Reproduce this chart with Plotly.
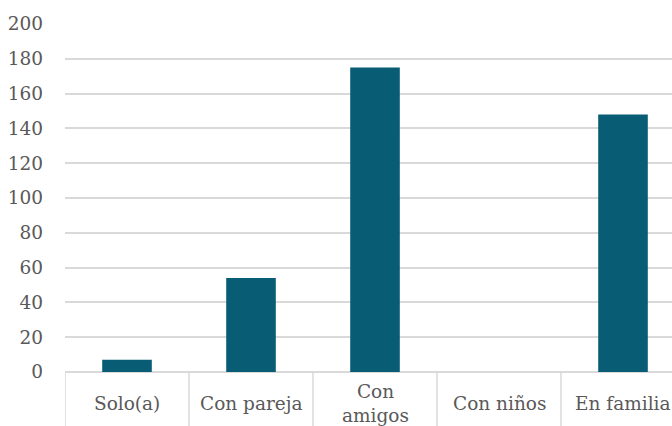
import plotly.graph_objects as go

categories = ["Solo(a)", "Con pareja", "Con amigos", "Con niños", "En familia"]
tick_labels = ["Solo(a)", "Con pareja", "Con<br>amigos", "Con niños", "En familia"]
values = [7, 54, 175, 0, 148]
y_ticks = list(range(0, 201, 20))

BAR = "#085c74"
GRID = "#d9d9d9"
TXT = "#595959"
FONT = "DejaVu Serif"

W, H = 672, 426
ML, MT, MB = 65, 24, 54
plot_w = W - ML
cat_px = 124.0
n = len(categories)
x_max = -0.5 + plot_w / cat_px

fig = go.Figure()
fig.add_trace(go.Bar(
    x=list(range(n)), y=values,
    marker=dict(color=BAR, line=dict(width=0)),
    width=0.4,
))

shapes = []
for i in range(n + 1):
    xb = i - 0.5
    if xb <= x_max:
        shapes.append(dict(type="line", xref="x", yref="paper", x0=xb, x1=xb,
                           y0=0, y1=-MB / (H - MT - MB), line=dict(color=GRID, width=1.5),
                           layer="below"))

annotations = []
for i, lab in enumerate(tick_labels):
    annotations.append(dict(xref="x", yref="paper", x=i, y=-(MB / 2 + 4) / (H - MT - MB),
                            text=lab, showarrow=False, xanchor="center", yanchor="middle",
                            font=dict(family=FONT, size=18.5, color=TXT)))

fig.update_layout(
    width=W, height=H,
    margin=dict(l=ML, r=0, t=MT, b=MB, pad=0),
    paper_bgcolor="white", plot_bgcolor="white",
    showlegend=False,
    shapes=shapes, annotations=annotations,
    xaxis=dict(range=[-0.5, x_max], showticklabels=False, showgrid=False,
               zeroline=False, showline=False, ticks=""),
    yaxis=dict(range=[0, 200], tickvals=y_ticks, showgrid=True, gridcolor=GRID,
               gridwidth=1.5, zeroline=True, zerolinecolor=GRID, zerolinewidth=1.5,
               showline=False, ticks="", ticklabelstandoff=21,
               tickfont=dict(family=FONT, size=18.5, color=TXT)),
    font=dict(family=FONT),
)

fig.write_html("out.html")
